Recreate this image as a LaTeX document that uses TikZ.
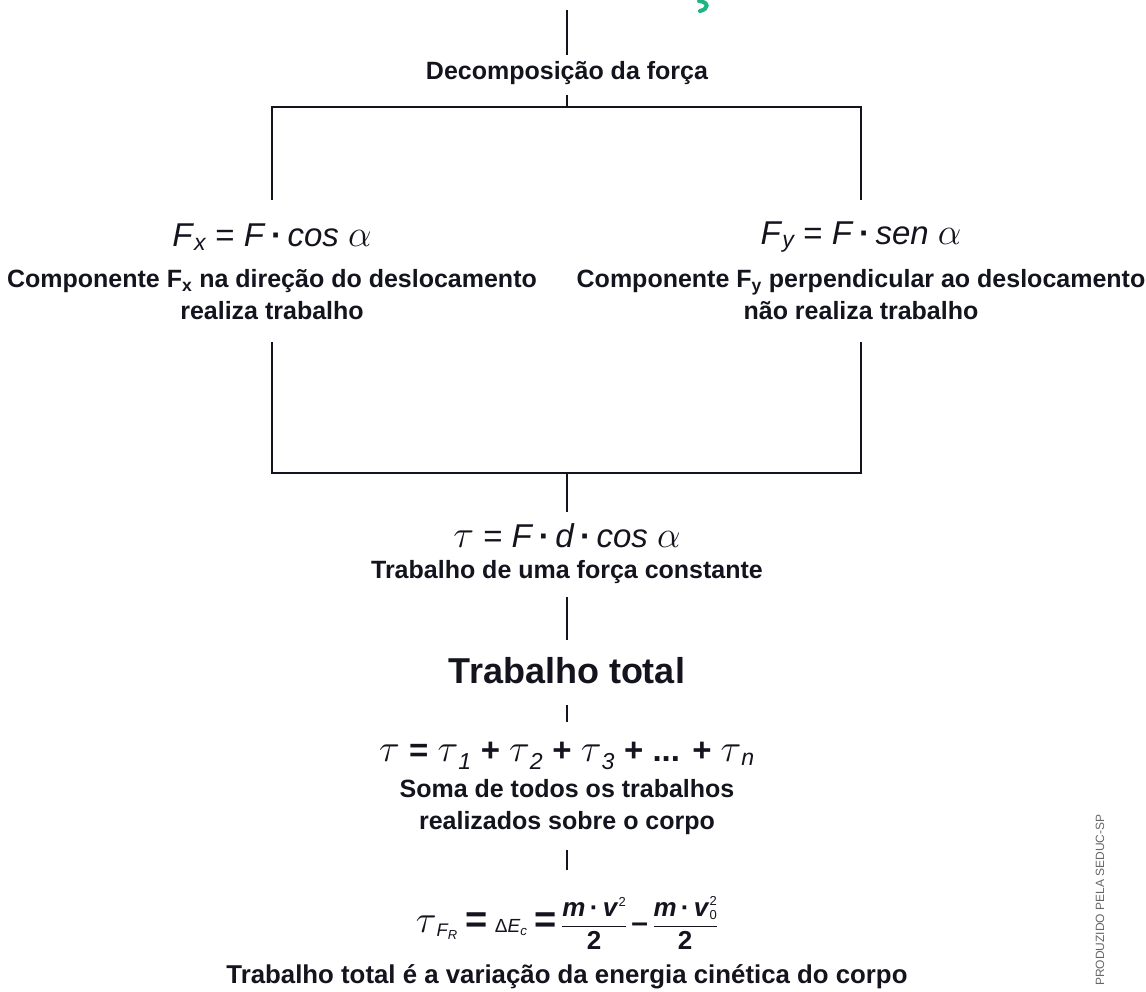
\documentclass[tikz,border=0pt]{standalone}
\usepackage{fontspec}
\usepackage{amsmath}
\setmainfont{Liberation Sans}
\definecolor{ink}{HTML}{14141F}
\definecolor{grn}{HTML}{1DB584}
\newcommand{\bi}[1]{\textbf{\textit{#1}}}
\newcommand{\bdot}{\,\textbf{·}\,}
\newcommand{\alf}{\scalebox{1.5}{$\alpha$}}
\newcommand{\tu}{\scalebox{1.55}{$\tau$}}
\begin{document}
\begin{tikzpicture}[x=1pt,y=-1pt,
  conn/.style={draw=ink,line width=2.2pt},
  lbl/.style={font=\bfseries\fontsize{25}{32}\selectfont,text=ink,align=center,inner sep=0pt},
  fml/.style={font=\fontsize{33}{36}\selectfont,text=ink,inner sep=0pt}]
\useasboundingbox (0,0) rectangle (1146,992);
% coordinates
\coordinate (t0) at (567,10);
\coordinate (t1) at (567,55);
\coordinate (t2) at (567,95);
\coordinate (j1) at (567,107);
\coordinate (L1) at (272,107);
\coordinate (R1) at (861,107);
\coordinate (L2) at (272,200);
\coordinate (R2) at (861,200);
\coordinate (L3) at (272,342);
\coordinate (R3) at (861,342);
\coordinate (L4) at (272,473);
\coordinate (R4) at (861,473);
\coordinate (j2) at (567,473);
\coordinate (j3) at (567,512);
\coordinate (k1) at (567,597);
\coordinate (k2) at (567,640);
\coordinate (m1) at (567,705);
\coordinate (m2) at (567,722);
\coordinate (n1) at (567,850);
\coordinate (n2) at (567,870);
% texts
\node[lbl] (dec) at (567,73) {Decomposição da força};
\node[fml] (fx) at (272,237) {\textit{F}$_{\textit{x}}$ = \textit{F}\bdot\textit{cos} \alf};
\node[lbl] (cx) at (272,295) {Componente F$_{\text{x}}$ na direção do deslocamento\\realiza trabalho};
\node[fml] (fy) at (861,237) {\textit{F}$_{\textit{y}}$ = \textit{F}\bdot\textit{sen} \alf};
\node[lbl] (cy) at (861,295) {Componente F$_{\text{y}}$ perpendicular ao deslocamento\\não realiza trabalho};
\node[fml] (tw) at (567,536) {\tu{} = \textit{F}\bdot\textit{d}\bdot\textit{cos} \alf};
\node[lbl] (twl) at (567,572) {Trabalho de uma força constante};
\node[lbl,font=\bfseries\fontsize{36}{40}\selectfont] (tot) at (567,671) {Trabalho total};
\node[fml] (sum) at (567,756) {\tu{} \textbf{=} \tu$_{\textit{1}}$ \textbf{+} \tu$_{\textit{2}}$ \textbf{+} \tu$_{\textit{3}}$ \textbf{+ ... +} \tu$_{\textit{n}}$};
\node[lbl] (suml) at (567,807) {Soma de todos os trabalhos\\realizados sobre o corpo};
\node[fml,font=\fontsize{26}{28}\selectfont] (ec) at (567,923) {\tu$_{\textit{F}_{\textit{R}}}$ {\fontsize{38}{36}\selectfont\textbf{=}} {\fontsize{19}{20}\selectfont Δ\textit{E}$_{\textit{c}}$} {\fontsize{38}{36}\selectfont\textbf{=}}\,%
  $\dfrac{\text{\bi{m}\bdot\bi{v}\raisebox{10pt}{\fontsize{13}{13}\selectfont 2}}}{\text{\textbf{2}}}$\,{\fontsize{30}{36}\selectfont\textbf{–}}\,%
  $\dfrac{\text{\bi{m}\bdot\bi{v}\rlap{\raisebox{11pt}{\fontsize{13}{13}\selectfont 2}}\raisebox{-3pt}{\fontsize{13}{13}\selectfont 0}}}{\text{\textbf{2}}}$};
\node[lbl,font=\bfseries\fontsize{25.8}{32}\selectfont] (ecl) at (567,977) {Trabalho total é a variação da energia cinética do corpo};
\node[font=\fontsize{12}{14}\selectfont,text=black!60,rotate=90,inner sep=0pt] (cred) at (1100,900) {PRODUZIDO PELA SEDUC-SP};
% connectors
\draw[conn] (t0) -- (t1);
\draw[conn] (t2) -- (j1);
\draw[conn] (L2) -- (L1) -- (R1) -- (R2);
\draw[conn] (L3) -- (L4) -- (R4) -- (R3);
\draw[conn] (j2) -- (j3);
\draw[conn] (k1) -- (k2);
\draw[conn] (m1) -- (m2);
\draw[conn] (n1) -- (n2);
% green fragment
\draw[grn,line width=4pt,line cap=round] (699,1) .. controls (709,2) and (709,9) .. (700,11);
\end{tikzpicture}
\end{document}
